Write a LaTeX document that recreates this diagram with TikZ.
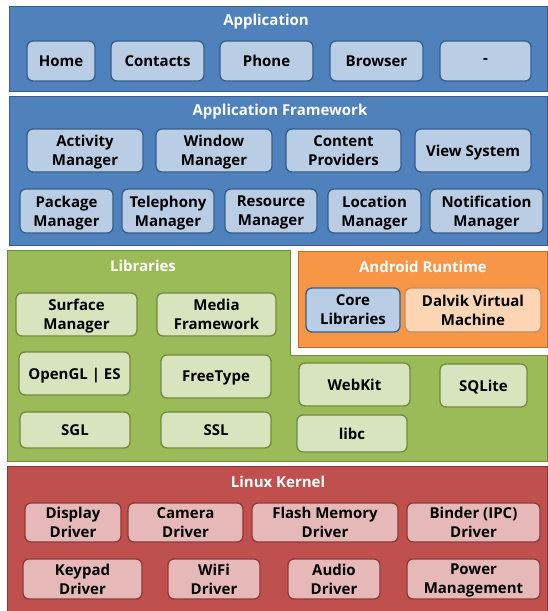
\documentclass[tikz,border=0pt]{standalone}
\usepackage{fontspec}
\setmainfont{Open Sans}
\definecolor{appblue}{HTML}{4F81BD}
\definecolor{appline}{HTML}{385D8A}
\definecolor{appitemfill}{HTML}{B9CDE5}
\definecolor{libgreen}{HTML}{9BBB59}
\definecolor{libline}{HTML}{71893F}
\definecolor{libitemfill}{HTML}{D7E4BD}
\definecolor{rtorange}{HTML}{F79646}
\definecolor{rtline}{HTML}{B66D31}
\definecolor{rtitemfill}{HTML}{FCD5B5}
\definecolor{rtitemline}{HTML}{C98A5C}
\definecolor{kerred}{HTML}{C0504D}
\definecolor{kerline}{HTML}{8C3836}
\definecolor{keritemfill}{HTML}{E6B9B8}
\begin{document}
\begin{tikzpicture}[x=1pt,y=-1pt,
    txt/.style = {font=\fontsize{15}{19}\selectfont\bfseries, align=center, inner sep=1pt},
    title/.style = {txt, text=white},
    item/.style = {txt, draw, rounded corners=6pt, line width=1.3pt, text depth=0pt},
    appitem/.style = {item, fill=appitemfill, draw=appline},
    libitem/.style = {item, fill=libitemfill, draw=libline},
    rtitem/.style = {item, fill=rtitemfill, draw=rtitemline},
    keritem/.style = {item, fill=keritemfill, draw=kerline}]
  \useasboundingbox (0,0) rectangle (548,611);

  % layers
  \filldraw[fill=appblue, draw=appline, line width=1pt] (9,6) rectangle (547,91);
  \filldraw[fill=appblue, draw=appline, line width=1pt] (9,96) rectangle (547,245);
  \filldraw[fill=libgreen, draw=libline, line width=1pt]
    (7,250) -- (290,250) -- (290,355) -- (547,355) -- (547,461) -- (7,461) -- cycle;
  \filldraw[fill=rtorange, draw=rtline, line width=1pt] (298,251) rectangle (547,347);
  \filldraw[fill=kerred, draw=kerline, line width=1pt] (7,466) rectangle (547,615);

  % Application
  \node[title] (app) at (266,21.5) {Application};
  \node[appitem, minimum width=68, minimum height=40] (home) at (61,61) {Home};
  \node[appitem, minimum width=93, minimum height=40] (contacts) at (157.5,61) {Contacts};
  \node[appitem, minimum width=93, minimum height=40] (phone) at (266.5,61) {Phone};
  \node[appitem, minimum width=93, minimum height=40] (browser) at (376.5,61) {Browser};
  \node[appitem, minimum width=91, minimum height=40] (more) at (485.5,61) {-};

  % Application Framework
  \node[title] (fw) at (280,112) {Application Framework};
  \node[appitem, minimum width=116, minimum height=43] (activity) at (85,150.5) {Activity\\Manager};
  \node[appitem, minimum width=116, minimum height=43] (window) at (214,150.5) {Window\\Manager};
  \node[appitem, minimum width=115, minimum height=43] (content) at (343.5,150.5) {Content\\Providers};
  \node[appitem, minimum width=116, minimum height=43] (view) at (473,150.5) {View System};
  \node[appitem, minimum width=93, minimum height=44] (package) at (66.5,211) {Package\\Manager};
  \node[appitem, minimum width=92, minimum height=44] (telephony) at (168,211) {Telephony\\Manager};
  \node[appitem, minimum width=92, minimum height=44] (resource) at (271,211) {Resource\\Manager};
  \node[appitem, minimum width=93, minimum height=44] (location) at (374.5,211) {Location\\Manager};
  \node[appitem, minimum width=113, minimum height=44] (notification) at (486.5,211) {Notification\\Manager};

  % Libraries
  \node[title] (libs) at (143,266) {Libraries};
  \node[libitem, minimum width=121, minimum height=43] (surface) at (76.5,314.5) {Surface\\Manager};
  \node[libitem, minimum width=119, minimum height=43] (media) at (216.5,314.5) {Media\\Framework};
  \node[libitem, minimum width=111, minimum height=43] (opengl) at (74.5,373.5) {OpenGL | ES};
  \node[libitem, minimum width=110, minimum height=43] (freetype) at (216,376.5) {FreeType};
  \node[libitem, minimum width=111, minimum height=43] (webkit) at (354.5,384.5) {WebKit};
  \node[libitem, minimum width=87, minimum height=43] (sqlite) at (483.5,385.5) {SQLite};
  \node[libitem, minimum width=110, minimum height=36] (sgl) at (75,430) {SGL};
  \node[libitem, minimum width=110, minimum height=36] (ssl) at (216,430) {SSL};
  \node[libitem, minimum width=110, minimum height=37] (libc) at (352,433.5) {libc};

  % Android Runtime
  \node[title] (rt) at (423,267) {Android Runtime};
  \node[appitem, minimum width=94, minimum height=44] (core) at (353,310) {Core\\Libraries};
  \node[rtitem, minimum width=136, minimum height=44] (dalvik) at (473,310) {Dalvik Virtual\\Machine};

  % Linux Kernel
  \node[title] (kernel) at (278,482) {Linux Kernel};
  \node[keritem, minimum width=96, minimum height=39] (display) at (73,522.5) {Display\\Driver};
  \node[keritem, minimum width=115, minimum height=39] (camera) at (185.5,522.5) {Camera\\Driver};
  \node[keritem, minimum width=146, minimum height=39] (flash) at (325,522.5) {Flash Memory\\Driver};
  \node[keritem, minimum width=133, minimum height=39] (binder) at (473.5,522.5) {Binder (IPC)\\Driver};
  \node[keritem, minimum width=119, minimum height=40] (keypad) at (82.5,579) {Keypad\\Driver};
  \node[keritem, minimum width=92, minimum height=40] (wifi) at (214,579) {WiFi\\Driver};
  \node[keritem, minimum width=92, minimum height=40] (audio) at (334,579) {Audio\\Driver};
  \node[keritem, minimum width=133, minimum height=40] (power) at (473.5,579) {Power\\Management};
\end{tikzpicture}
\end{document}
